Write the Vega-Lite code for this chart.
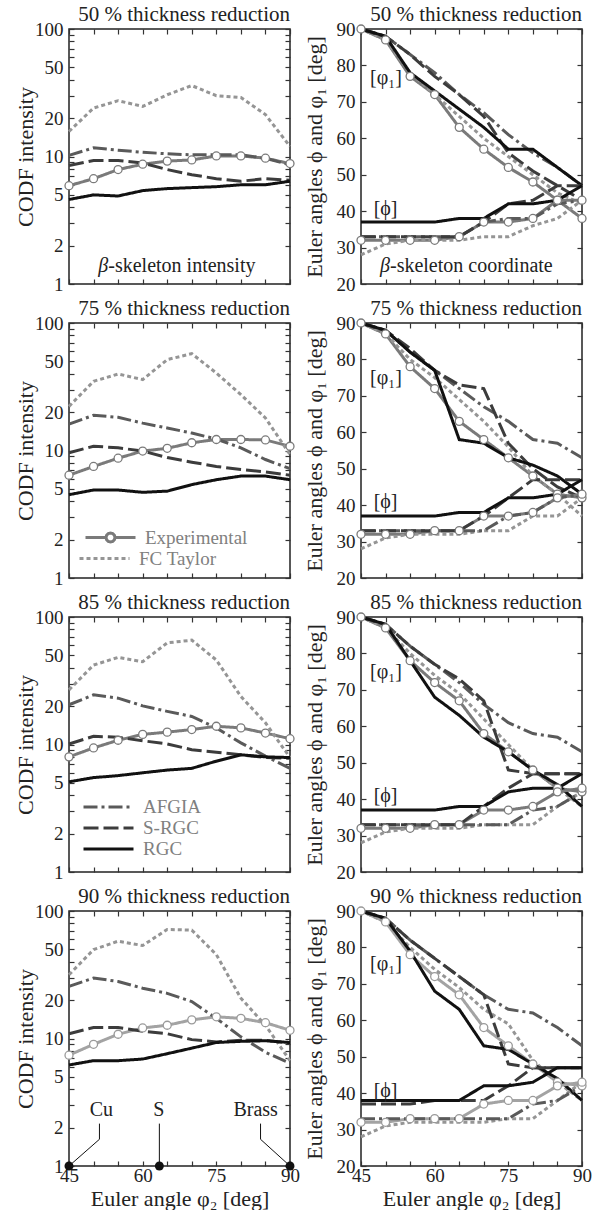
{
"$schema": "https://vega.github.io/schema/vega-lite/v6.json",
"padding": {"left": 13, "top": 3, "right": 5, "bottom": 0},
"background": "white",
"columns": 2,
"spacing": {"row": 39, "column": 71},
"bounds": "flush",
"resolve": {"scale": {"x": "independent", "y": "independent", "color": "independent", "strokeDash": "independent", "strokeWidth": "independent"}, "legend": {"color": "independent", "strokeDash": "independent"}},
"config": {
 "font": "Liberation Serif",
 "view": {"stroke": "#222222", "strokeWidth": 1.5},
 "axis": {"labelFont": "Liberation Serif", "labelFontSize": 19, "labelColor": "#222222", "titleFont": "Liberation Serif", "titleFontSize": 22, "titleFontWeight": "normal", "titleColor": "#222222", "tickColor": "#333333", "tickWidth": 1.2, "grid": false, "domain": false, "labelOverlap": false},
 "title": {"font": "Liberation Serif", "fontSize": 21, "fontWeight": "normal", "color": "#222222", "anchor": "end", "frame": "group", "offset": -5, "baseline": "alphabetic"},
 "style": {"group-title": {"font": "Liberation Serif", "fontSize": 21, "fontWeight": "normal"}, "guide-label": {"font": "Liberation Serif", "fontSize": 19}, "guide-title": {"font": "Liberation Serif", "fontSize": 22, "fontWeight": "normal"}},
 "legend": {"labelFont": "Liberation Serif", "labelFontSize": 19, "labelColor": "#808080", "symbolType": "stroke", "symbolSize": 2500, "symbolStrokeWidth": 2.5, "orient": "bottom-left", "padding": 0, "labelOffset": 8},
 "text": {"font": "Liberation Serif", "fontSize": 20, "color": "#222222"},
 "line": {"strokeWidth": 3, "strokeCap": "butt"}
},
"datasets": {
"codf": [
{"r":50,"x":45,"Experimental":5.9,"FC Taylor":15.7,"AFGIA":10.2,"S-RGC":8.5,"RGC":4.6},
{"r":50,"x":50,"Experimental":6.7,"FC Taylor":24,"AFGIA":11.7,"S-RGC":9.3,"RGC":5.0},
{"r":50,"x":55,"Experimental":7.9,"FC Taylor":27.4,"AFGIA":11.2,"S-RGC":9.3,"RGC":4.9},
{"r":50,"x":60,"Experimental":8.7,"FC Taylor":24.7,"AFGIA":10.8,"S-RGC":8.9,"RGC":5.4},
{"r":50,"x":65,"Experimental":9.2,"FC Taylor":30.5,"AFGIA":10.5,"S-RGC":7.9,"RGC":5.6},
{"r":50,"x":70,"Experimental":9.4,"FC Taylor":36,"AFGIA":10.3,"S-RGC":7.2,"RGC":5.7},
{"r":50,"x":75,"Experimental":10.1,"FC Taylor":30,"AFGIA":10.3,"S-RGC":6.7,"RGC":5.8},
{"r":50,"x":80,"Experimental":10.1,"FC Taylor":29,"AFGIA":10.3,"S-RGC":6.4,"RGC":6.0},
{"r":50,"x":85,"Experimental":9.7,"FC Taylor":21.3,"AFGIA":9.7,"S-RGC":6.7,"RGC":6.0},
{"r":50,"x":90,"Experimental":8.8,"FC Taylor":12,"AFGIA":8.6,"S-RGC":6.5,"RGC":6.4},
{"r":75,"x":45,"Experimental":6.4,"FC Taylor":22.2,"AFGIA":16.1,"S-RGC":9.6,"RGC":4.5},
{"r":75,"x":50,"Experimental":7.5,"FC Taylor":34.9,"AFGIA":18.9,"S-RGC":10.8,"RGC":4.9},
{"r":75,"x":55,"Experimental":8.7,"FC Taylor":39.8,"AFGIA":18.2,"S-RGC":10.5,"RGC":4.9},
{"r":75,"x":60,"Experimental":9.9,"FC Taylor":36,"AFGIA":16.4,"S-RGC":9.9,"RGC":4.7},
{"r":75,"x":65,"Experimental":10.4,"FC Taylor":51.6,"AFGIA":15.0,"S-RGC":8.8,"RGC":4.8},
{"r":75,"x":70,"Experimental":11.5,"FC Taylor":57.5,"AFGIA":13.7,"S-RGC":8.1,"RGC":5.4},
{"r":75,"x":75,"Experimental":12.2,"FC Taylor":40.5,"AFGIA":12.3,"S-RGC":7.5,"RGC":5.9},
{"r":75,"x":80,"Experimental":12.2,"FC Taylor":27.4,"AFGIA":10.5,"S-RGC":7.1,"RGC":6.3},
{"r":75,"x":85,"Experimental":12.1,"FC Taylor":18,"AFGIA":8.5,"S-RGC":6.8,"RGC":6.3},
{"r":75,"x":90,"Experimental":10.8,"FC Taylor":9.3,"AFGIA":7.2,"S-RGC":6.4,"RGC":5.9},
{"r":85,"x":45,"Experimental":8.0,"FC Taylor":26.8,"AFGIA":20.5,"S-RGC":10.1,"RGC":5.1},
{"r":85,"x":50,"Experimental":9.4,"FC Taylor":42,"AFGIA":24.5,"S-RGC":11.6,"RGC":5.5},
{"r":85,"x":55,"Experimental":10.8,"FC Taylor":48.2,"AFGIA":23.1,"S-RGC":11.4,"RGC":5.7},
{"r":85,"x":60,"Experimental":12.0,"FC Taylor":44.6,"AFGIA":20.1,"S-RGC":10.7,"RGC":6.0},
{"r":85,"x":65,"Experimental":12.5,"FC Taylor":62.7,"AFGIA":18.2,"S-RGC":10.1,"RGC":6.3},
{"r":85,"x":70,"Experimental":13.1,"FC Taylor":65.8,"AFGIA":16.6,"S-RGC":9.1,"RGC":6.5},
{"r":85,"x":75,"Experimental":13.9,"FC Taylor":46,"AFGIA":13.5,"S-RGC":8.7,"RGC":7.4},
{"r":85,"x":80,"Experimental":13.5,"FC Taylor":23.8,"AFGIA":10.3,"S-RGC":8.3,"RGC":8.3},
{"r":85,"x":85,"Experimental":12.3,"FC Taylor":14.8,"AFGIA":8.1,"S-RGC":7.9,"RGC":8.0},
{"r":85,"x":90,"Experimental":11.1,"FC Taylor":7.9,"AFGIA":6.5,"S-RGC":7.8,"RGC":7.9},
{"r":90,"x":45,"Experimental":7.4,"FC Taylor":31.6,"AFGIA":25.6,"S-RGC":10.9,"RGC":6.2},
{"r":90,"x":50,"Experimental":9.0,"FC Taylor":49.8,"AFGIA":29.8,"S-RGC":12.2,"RGC":6.7},
{"r":90,"x":55,"Experimental":10.8,"FC Taylor":58,"AFGIA":28,"S-RGC":12.2,"RGC":6.7},
{"r":90,"x":60,"Experimental":12.1,"FC Taylor":53.6,"AFGIA":24.8,"S-RGC":11.4,"RGC":6.9},
{"r":90,"x":65,"Experimental":12.7,"FC Taylor":71.7,"AFGIA":22.6,"S-RGC":10.9,"RGC":7.6},
{"r":90,"x":70,"Experimental":14.0,"FC Taylor":70.8,"AFGIA":19.5,"S-RGC":9.8,"RGC":8.4},
{"r":90,"x":75,"Experimental":14.8,"FC Taylor":45.5,"AFGIA":14.4,"S-RGC":9.4,"RGC":9.3},
{"r":90,"x":80,"Experimental":14.4,"FC Taylor":20.7,"AFGIA":10.3,"S-RGC":9.7,"RGC":9.5},
{"r":90,"x":85,"Experimental":13.3,"FC Taylor":12.7,"AFGIA":7.8,"S-RGC":9.7,"RGC":9.6},
{"r":90,"x":90,"Experimental":11.6,"FC Taylor":6.7,"AFGIA":6.4,"S-RGC":9.2,"RGC":9.3}
],
"euler": [
{"r":50,"c":"phi1","x":45,"Experimental":90,"FC Taylor":90,"AFGIA":90,"S-RGC":90,"RGC":90},
{"r":50,"c":"phi1","x":50,"Experimental":87,"FC Taylor":87,"AFGIA":88,"S-RGC":88,"RGC":88},
{"r":50,"c":"phi1","x":55,"Experimental":77,"FC Taylor":78,"AFGIA":83,"S-RGC":83,"RGC":78},
{"r":50,"c":"phi1","x":60,"Experimental":72,"FC Taylor":72,"AFGIA":78,"S-RGC":77,"RGC":73},
{"r":50,"c":"phi1","x":65,"Experimental":63,"FC Taylor":66,"AFGIA":72,"S-RGC":72,"RGC":68},
{"r":50,"c":"phi1","x":70,"Experimental":57,"FC Taylor":60,"AFGIA":67,"S-RGC":66,"RGC":63},
{"r":50,"c":"phi1","x":75,"Experimental":52,"FC Taylor":55,"AFGIA":61,"S-RGC":56,"RGC":57},
{"r":50,"c":"phi1","x":80,"Experimental":48,"FC Taylor":50,"AFGIA":56,"S-RGC":51,"RGC":57},
{"r":50,"c":"phi1","x":85,"Experimental":43,"FC Taylor":45,"AFGIA":52,"S-RGC":47,"RGC":52},
{"r":50,"c":"phi1","x":90,"Experimental":38,"FC Taylor":42,"AFGIA":47,"S-RGC":43,"RGC":47},
{"r":50,"c":"Phi","x":45,"Experimental":32,"FC Taylor":28,"AFGIA":33,"S-RGC":33,"RGC":37},
{"r":50,"c":"Phi","x":50,"Experimental":32,"FC Taylor":31,"AFGIA":33,"S-RGC":33,"RGC":37},
{"r":50,"c":"Phi","x":55,"Experimental":32,"FC Taylor":32,"AFGIA":33,"S-RGC":33,"RGC":37},
{"r":50,"c":"Phi","x":60,"Experimental":32,"FC Taylor":32,"AFGIA":33,"S-RGC":33,"RGC":37},
{"r":50,"c":"Phi","x":65,"Experimental":33,"FC Taylor":32,"AFGIA":33,"S-RGC":33,"RGC":38},
{"r":50,"c":"Phi","x":70,"Experimental":37,"FC Taylor":33,"AFGIA":37,"S-RGC":37,"RGC":38},
{"r":50,"c":"Phi","x":75,"Experimental":37,"FC Taylor":33,"AFGIA":38,"S-RGC":42,"RGC":42},
{"r":50,"c":"Phi","x":80,"Experimental":38,"FC Taylor":36,"AFGIA":38,"S-RGC":43,"RGC":42},
{"r":50,"c":"Phi","x":85,"Experimental":43,"FC Taylor":38,"AFGIA":42,"S-RGC":47,"RGC":43},
{"r":50,"c":"Phi","x":90,"Experimental":43,"FC Taylor":43,"AFGIA":43,"S-RGC":47,"RGC":47},
{"r":75,"c":"phi1","x":45,"Experimental":90,"FC Taylor":90,"AFGIA":90,"S-RGC":90,"RGC":90},
{"r":75,"c":"phi1","x":50,"Experimental":87,"FC Taylor":87,"AFGIA":88,"S-RGC":88,"RGC":88},
{"r":75,"c":"phi1","x":55,"Experimental":78,"FC Taylor":80,"AFGIA":82,"S-RGC":83,"RGC":82},
{"r":75,"c":"phi1","x":60,"Experimental":72,"FC Taylor":75,"AFGIA":77,"S-RGC":77,"RGC":77},
{"r":75,"c":"phi1","x":65,"Experimental":63,"FC Taylor":69,"AFGIA":72,"S-RGC":73,"RGC":58},
{"r":75,"c":"phi1","x":70,"Experimental":58,"FC Taylor":63,"AFGIA":67,"S-RGC":72,"RGC":57},
{"r":75,"c":"phi1","x":75,"Experimental":53,"FC Taylor":56,"AFGIA":63,"S-RGC":57,"RGC":53},
{"r":75,"c":"phi1","x":80,"Experimental":48,"FC Taylor":48,"AFGIA":58,"S-RGC":50,"RGC":51},
{"r":75,"c":"phi1","x":85,"Experimental":43,"FC Taylor":43,"AFGIA":57,"S-RGC":45,"RGC":48},
{"r":75,"c":"phi1","x":90,"Experimental":42,"FC Taylor":37,"AFGIA":53,"S-RGC":42,"RGC":43},
{"r":75,"c":"Phi","x":45,"Experimental":32,"FC Taylor":28,"AFGIA":33,"S-RGC":33,"RGC":37},
{"r":75,"c":"Phi","x":50,"Experimental":32,"FC Taylor":31,"AFGIA":33,"S-RGC":33,"RGC":37},
{"r":75,"c":"Phi","x":55,"Experimental":32,"FC Taylor":32,"AFGIA":33,"S-RGC":33,"RGC":37},
{"r":75,"c":"Phi","x":60,"Experimental":33,"FC Taylor":32,"AFGIA":33,"S-RGC":33,"RGC":37},
{"r":75,"c":"Phi","x":65,"Experimental":33,"FC Taylor":32,"AFGIA":33,"S-RGC":33,"RGC":38},
{"r":75,"c":"Phi","x":70,"Experimental":37,"FC Taylor":33,"AFGIA":33,"S-RGC":37,"RGC":38},
{"r":75,"c":"Phi","x":75,"Experimental":37,"FC Taylor":33,"AFGIA":37,"S-RGC":42,"RGC":42},
{"r":75,"c":"Phi","x":80,"Experimental":38,"FC Taylor":37,"AFGIA":38,"S-RGC":47,"RGC":42},
{"r":75,"c":"Phi","x":85,"Experimental":42,"FC Taylor":37,"AFGIA":42,"S-RGC":47,"RGC":43},
{"r":75,"c":"Phi","x":90,"Experimental":43,"FC Taylor":42,"AFGIA":43,"S-RGC":47,"RGC":47},
{"r":85,"c":"phi1","x":45,"Experimental":90,"FC Taylor":90,"AFGIA":90,"S-RGC":90,"RGC":90},
{"r":85,"c":"phi1","x":50,"Experimental":87,"FC Taylor":87,"AFGIA":88,"S-RGC":88,"RGC":88},
{"r":85,"c":"phi1","x":55,"Experimental":78,"FC Taylor":80,"AFGIA":82,"S-RGC":82,"RGC":78},
{"r":85,"c":"phi1","x":60,"Experimental":72,"FC Taylor":74,"AFGIA":77,"S-RGC":77,"RGC":68},
{"r":85,"c":"phi1","x":65,"Experimental":67,"FC Taylor":69,"AFGIA":72,"S-RGC":73,"RGC":63},
{"r":85,"c":"phi1","x":70,"Experimental":58,"FC Taylor":62,"AFGIA":66,"S-RGC":67,"RGC":57},
{"r":85,"c":"phi1","x":75,"Experimental":53,"FC Taylor":55,"AFGIA":61,"S-RGC":48,"RGC":53},
{"r":85,"c":"phi1","x":80,"Experimental":48,"FC Taylor":48,"AFGIA":58,"S-RGC":47,"RGC":48},
{"r":85,"c":"phi1","x":85,"Experimental":43,"FC Taylor":43,"AFGIA":57,"S-RGC":47,"RGC":44},
{"r":85,"c":"phi1","x":90,"Experimental":42,"FC Taylor":38,"AFGIA":53,"S-RGC":47,"RGC":38},
{"r":85,"c":"Phi","x":45,"Experimental":32,"FC Taylor":28,"AFGIA":33,"S-RGC":33,"RGC":37},
{"r":85,"c":"Phi","x":50,"Experimental":32,"FC Taylor":31,"AFGIA":33,"S-RGC":33,"RGC":37},
{"r":85,"c":"Phi","x":55,"Experimental":32,"FC Taylor":32,"AFGIA":33,"S-RGC":33,"RGC":37},
{"r":85,"c":"Phi","x":60,"Experimental":33,"FC Taylor":32,"AFGIA":33,"S-RGC":33,"RGC":37},
{"r":85,"c":"Phi","x":65,"Experimental":33,"FC Taylor":32,"AFGIA":33,"S-RGC":33,"RGC":38},
{"r":85,"c":"Phi","x":70,"Experimental":37,"FC Taylor":33,"AFGIA":33,"S-RGC":38,"RGC":38},
{"r":85,"c":"Phi","x":75,"Experimental":37,"FC Taylor":33,"AFGIA":33,"S-RGC":43,"RGC":42},
{"r":85,"c":"Phi","x":80,"Experimental":38,"FC Taylor":33,"AFGIA":37,"S-RGC":47,"RGC":43},
{"r":85,"c":"Phi","x":85,"Experimental":42,"FC Taylor":38,"AFGIA":38,"S-RGC":47,"RGC":43},
{"r":85,"c":"Phi","x":90,"Experimental":43,"FC Taylor":42,"AFGIA":42,"S-RGC":47,"RGC":47},
{"r":90,"c":"phi1","x":45,"Experimental":90,"FC Taylor":90,"AFGIA":90,"S-RGC":90,"RGC":90},
{"r":90,"c":"phi1","x":50,"Experimental":87,"FC Taylor":87,"AFGIA":88,"S-RGC":88,"RGC":88},
{"r":90,"c":"phi1","x":55,"Experimental":78,"FC Taylor":80,"AFGIA":82,"S-RGC":82,"RGC":79},
{"r":90,"c":"phi1","x":60,"Experimental":72,"FC Taylor":74,"AFGIA":77,"S-RGC":77,"RGC":68},
{"r":90,"c":"phi1","x":65,"Experimental":67,"FC Taylor":69,"AFGIA":72,"S-RGC":72,"RGC":63},
{"r":90,"c":"phi1","x":70,"Experimental":58,"FC Taylor":63,"AFGIA":67,"S-RGC":67,"RGC":53},
{"r":90,"c":"phi1","x":75,"Experimental":53,"FC Taylor":59,"AFGIA":63,"S-RGC":48,"RGC":52},
{"r":90,"c":"phi1","x":80,"Experimental":48,"FC Taylor":49,"AFGIA":62,"S-RGC":47,"RGC":48},
{"r":90,"c":"phi1","x":85,"Experimental":43,"FC Taylor":43,"AFGIA":58,"S-RGC":47,"RGC":44},
{"r":90,"c":"phi1","x":90,"Experimental":42,"FC Taylor":38,"AFGIA":53,"S-RGC":47,"RGC":38},
{"r":90,"c":"Phi","x":45,"Experimental":32,"FC Taylor":28,"AFGIA":33,"S-RGC":37,"RGC":38},
{"r":90,"c":"Phi","x":50,"Experimental":32,"FC Taylor":31,"AFGIA":33,"S-RGC":37,"RGC":38},
{"r":90,"c":"Phi","x":55,"Experimental":33,"FC Taylor":32,"AFGIA":33,"S-RGC":37,"RGC":38},
{"r":90,"c":"Phi","x":60,"Experimental":33,"FC Taylor":32,"AFGIA":33,"S-RGC":38,"RGC":38},
{"r":90,"c":"Phi","x":65,"Experimental":33,"FC Taylor":32,"AFGIA":33,"S-RGC":38,"RGC":38},
{"r":90,"c":"Phi","x":70,"Experimental":37,"FC Taylor":32,"AFGIA":33,"S-RGC":38,"RGC":42},
{"r":90,"c":"Phi","x":75,"Experimental":38,"FC Taylor":33,"AFGIA":33,"S-RGC":42,"RGC":42},
{"r":90,"c":"Phi","x":80,"Experimental":38,"FC Taylor":33,"AFGIA":37,"S-RGC":47,"RGC":43},
{"r":90,"c":"Phi","x":85,"Experimental":42,"FC Taylor":38,"AFGIA":38,"S-RGC":47,"RGC":47},
{"r":90,"c":"Phi","x":90,"Experimental":43,"FC Taylor":43,"AFGIA":42,"S-RGC":47,"RGC":47}
],
"notes": [
{"id":"L50","k":"it","t":"β","x":53.0,"v":1.38},
{"id":"L50","k":"rl","t":"-skeleton intensity","x":53.0,"v":1.38},
{"id":"R50","k":"it","t":"β","x":50.9,"v":25},
{"id":"R50","k":"rl","t":"-skeleton coordinate","x":50.9,"v":25},
{"id":"R50","k":"c","t":"[φ₁]","x":50.1,"v":76.5},
{"id":"R50","k":"c","t":"[ϕ]","x":50,"v":40.5},
{"id":"R75","k":"c","t":"[φ₁]","x":50.1,"v":75},
{"id":"R75","k":"c","t":"[ϕ]","x":50,"v":41},
{"id":"R85","k":"c","t":"[φ₁]","x":50.1,"v":75},
{"id":"R85","k":"c","t":"[ϕ]","x":50,"v":40.8},
{"id":"R90","k":"c","t":"[φ₁]","x":50.1,"v":75.5},
{"id":"R90","k":"c","t":"[ϕ]","x":50,"v":40.5},
{"id":"L90","k":"c","t":"Cu","x":51.6,"v":2.75},
{"id":"L90","k":"c","t":"S","x":63.3,"v":2.75},
{"id":"L90","k":"c","t":"Brass","x":83,"v":2.75}
],
"lead": [
{"k":"Cu","o":1,"x":45,"v":1},
{"k":"Cu","o":2,"x":51.2,"v":1.62},
{"k":"Cu","o":3,"x":51.2,"v":2.15},
{"k":"S","o":1,"x":63.4,"v":1},
{"k":"S","o":2,"x":63.4,"v":2.15},
{"k":"Brass","o":1,"x":90,"v":1},
{"k":"Brass","o":2,"x":84,"v":1.62},
{"k":"Brass","o":3,"x":84,"v":2.15}
]
},
"concat": [
{
 "width": 221, "height": 255,
 "title": {"text": "50 % thickness reduction", "font": "Liberation Serif"},
 "resolve": {"axis": {"x": "independent", "y": "independent"}},
 "layer": [
  {"data": {"name": "codf"}, "transform": [{"filter": "datum.r == 50"}, {"fold": ["Experimental","FC Taylor","AFGIA","S-RGC","RGC"], "as": ["s","v"]}],
   "mark": {"type": "line", "strokeWidth": 3},
   "encoding": {
    "x": {"field": "x", "type": "quantitative", "scale": {"domain": [45,90], "nice": false, "zero": false}, "axis": {"orient": "bottom", "values": [45,50,55,60,65,70,75,80,85,90], "labels": false, "title": null, "tickSize": -5}},
    "y": {"field": "v", "type": "quantitative", "scale": {"type": "log", "domain": [1,100], "nice": false}, "axis": {"orient": "left", "values": [1,2,3,4,5,6,7,8,9,10,20,30,40,50,60,70,80,90,100], "labelExpr": "indexof([1,2,5,10,20,50,100], datum.value) >= 0 ? datum.label : ''", "format": "d", "labelPadding": 11, "title": "CODF intensity", "titlePadding": -3, "tickSize": -5}},
    "color": {"field": "s", "type": "nominal", "scale": {"domain": ["Experimental","FC Taylor","AFGIA","S-RGC","RGC"], "range": ["#7a7a7a","#959595","#5a5a5a","#3c3c3c","#111111"]}, "legend": null},
    "strokeDash": {"field": "s", "type": "nominal", "scale": {"domain": ["Experimental","FC Taylor","AFGIA","S-RGC","RGC"], "range": [[1,0],[4,3],[14,4,3,4],[15,5],[1,0]]}, "legend": null}
   }},
  {"data": {"name": "codf"}, "transform": [{"filter": "datum.r == 50"}],
   "mark": {"type": "point", "shape": "circle", "filled": true, "fill": "#ffffff", "stroke": "#7a7a7a", "strokeWidth": 1.3, "size": 64, "opacity": 1},
   "encoding": {
    "x": {"field": "x", "type": "quantitative", "axis": {"orient": "top", "values": [45,50,55,60,65,70,75,80,85,90], "labels": false, "title": null, "tickSize": -5}},
    "y": {"field": "Experimental", "type": "quantitative", "axis": {"orient": "right", "values": [1,2,3,4,5,6,7,8,9,10,20,30,40,50,60,70,80,90,100], "labels": false, "title": null, "tickSize": -5}}
   }},
  {"data": {"name": "notes"}, "transform": [{"filter": "datum.id == 'L50' && datum.k == 'it'"}],
   "mark": {"type": "text", "fontStyle": "italic", "align": "right", "baseline": "middle", "fontSize": 20},
   "encoding": {"x": {"field": "x", "type": "quantitative", "axis": null}, "y": {"field": "v", "type": "quantitative", "axis": null}, "text": {"field": "t"}}},
  {"data": {"name": "notes"}, "transform": [{"filter": "datum.id == 'L50' && datum.k == 'rl'"}],
   "mark": {"type": "text", "align": "left", "baseline": "middle", "fontSize": 20},
   "encoding": {"x": {"field": "x", "type": "quantitative", "axis": null}, "y": {"field": "v", "type": "quantitative", "axis": null}, "text": {"field": "t"}}}
 ]
},
{
 "width": 221, "height": 255,
 "title": {"text": "50 % thickness reduction", "font": "Liberation Serif"},
 "resolve": {"axis": {"x": "independent", "y": "independent"}},
 "layer": [
  {"data": {"name": "euler"}, "transform": [{"filter": "datum.r == 50"}, {"fold": ["Experimental","FC Taylor","AFGIA","S-RGC","RGC"], "as": ["s","v"]}],
   "mark": {"type": "line"},
   "encoding": {
    "x": {"field": "x", "type": "quantitative", "scale": {"domain": [45,90], "nice": false, "zero": false}, "axis": {"orient": "bottom", "values": [45,50,55,60,65,70,75,80,85,90], "labels": false, "title": null, "tickSize": -5}},
    "y": {"field": "v", "type": "quantitative", "scale": {"domain": [20,90], "nice": false, "zero": false}, "axis": {"orient": "left", "values": [20,30,40,50,60,70,80,90], "labelPadding": 11, "title": "Euler angles ϕ and φ₁ [deg]", "titlePadding": 10, "tickSize": -5}},
    "color": {"field": "s", "type": "nominal", "scale": {"domain": ["Experimental","FC Taylor","AFGIA","S-RGC","RGC"], "range": ["#7a7a7a","#959595","#5a5a5a","#3c3c3c","#111111"]}, "legend": null},
    "strokeDash": {"field": "s", "type": "nominal", "scale": {"domain": ["Experimental","FC Taylor","AFGIA","S-RGC","RGC"], "range": [[1,0],[4,3],[14,4,3,4],[15,5],[1,0]]}, "legend": null},
    "strokeWidth": {"field": "c", "type": "nominal", "scale": {"domain": ["phi1","Phi"], "range": [3,1.3]}, "legend": null},
    "detail": {"field": "c"}
   }},
  {"data": {"name": "euler"}, "transform": [{"filter": "datum.r == 50"}],
   "mark": {"type": "point", "shape": "circle", "filled": true, "fill": "#ffffff", "stroke": "#7a7a7a", "strokeWidth": 1.3, "size": 64, "opacity": 1},
   "encoding": {
    "x": {"field": "x", "type": "quantitative", "axis": {"orient": "top", "values": [45,50,55,60,65,70,75,80,85,90], "labels": false, "title": null, "tickSize": -5}},
    "y": {"field": "Experimental", "type": "quantitative", "axis": {"orient": "right", "values": [20,30,40,50,60,70,80,90], "labels": false, "title": null, "tickSize": -5}}
   }},
  {"data": {"name": "notes"}, "transform": [{"filter": "datum.id == 'R50' && datum.k == 'c'"}],
   "mark": {"type": "text", "align": "center", "baseline": "middle", "fontSize": 20},
   "encoding": {"x": {"field": "x", "type": "quantitative", "axis": null}, "y": {"field": "v", "type": "quantitative", "axis": null}, "text": {"field": "t"}}},
  {"data": {"name": "notes"}, "transform": [{"filter": "datum.id == 'R50' && datum.k == 'it'"}],
   "mark": {"type": "text", "fontStyle": "italic", "align": "right", "baseline": "middle", "fontSize": 20},
   "encoding": {"x": {"field": "x", "type": "quantitative", "axis": null}, "y": {"field": "v", "type": "quantitative", "axis": null}, "text": {"field": "t"}}},
  {"data": {"name": "notes"}, "transform": [{"filter": "datum.id == 'R50' && datum.k == 'rl'"}],
   "mark": {"type": "text", "align": "left", "baseline": "middle", "fontSize": 20},
   "encoding": {"x": {"field": "x", "type": "quantitative", "axis": null}, "y": {"field": "v", "type": "quantitative", "axis": null}, "text": {"field": "t"}}}
 ]
},
{
 "width": 221, "height": 255,
 "title": {"text": "75 % thickness reduction", "font": "Liberation Serif"},
 "resolve": {"axis": {"x": "independent", "y": "independent"}},
 "layer": [
  {"data": {"name": "codf"}, "transform": [{"filter": "datum.r == 75"}, {"fold": ["Experimental","FC Taylor","AFGIA","S-RGC","RGC"], "as": ["s","v"]}],
   "mark": {"type": "line", "strokeWidth": 3},
   "encoding": {
    "x": {"field": "x", "type": "quantitative", "scale": {"domain": [45,90], "nice": false, "zero": false}, "axis": {"orient": "bottom", "values": [45,50,55,60,65,70,75,80,85,90], "labels": false, "title": null, "tickSize": -5}},
    "y": {"field": "v", "type": "quantitative", "scale": {"type": "log", "domain": [1,100], "nice": false}, "axis": {"orient": "left", "values": [1,2,3,4,5,6,7,8,9,10,20,30,40,50,60,70,80,90,100], "labelExpr": "indexof([1,2,5,10,20,50,100], datum.value) >= 0 ? datum.label : ''", "format": "d", "labelPadding": 11, "title": "CODF intensity", "titlePadding": -3, "tickSize": -5}},
    "color": {"field": "s", "type": "nominal", "scale": {"domain": ["Experimental","FC Taylor","AFGIA","S-RGC","RGC"], "range": ["#7a7a7a","#959595","#5a5a5a","#3c3c3c","#111111"]},
     "legend": {"values": ["Experimental"], "title": null, "orient": "none", "legendX": 15, "legendY": 207, "clipHeight": 15, "symbolType": "M-1,0L-0.18,0M0.18,0L1,0M0.18,0L0.156,0.09L0.09,0.156L0,0.18L-0.09,0.156L-0.156,0.09L-0.18,0L-0.156,-0.09L-0.09,-0.156L0,-0.18L0.09,-0.156L0.156,-0.09Z"}},
    "strokeDash": {"field": "s", "type": "nominal", "scale": {"domain": ["FC Taylor","Experimental","AFGIA","S-RGC","RGC"], "range": [[4,3],[1,0],[14,4,3,4],[15,5],[1,0]]},
     "legend": {"values": ["FC Taylor"], "title": null, "orient": "bottom-left", "offset": 9, "clipHeight": 15, "symbolStrokeColor": "#959595"}}
   }},
  {"data": {"name": "codf"}, "transform": [{"filter": "datum.r == 75"}],
   "mark": {"type": "point", "shape": "circle", "filled": true, "fill": "#ffffff", "stroke": "#7a7a7a", "strokeWidth": 1.3, "size": 64, "opacity": 1},
   "encoding": {
    "x": {"field": "x", "type": "quantitative", "axis": {"orient": "top", "values": [45,50,55,60,65,70,75,80,85,90], "labels": false, "title": null, "tickSize": -5}},
    "y": {"field": "Experimental", "type": "quantitative", "axis": {"orient": "right", "values": [1,2,3,4,5,6,7,8,9,10,20,30,40,50,60,70,80,90,100], "labels": false, "title": null, "tickSize": -5}}
   }}
 ]
},
{
 "width": 221, "height": 255,
 "title": {"text": "75 % thickness reduction", "font": "Liberation Serif"},
 "resolve": {"axis": {"x": "independent", "y": "independent"}},
 "layer": [
  {"data": {"name": "euler"}, "transform": [{"filter": "datum.r == 75"}, {"fold": ["Experimental","FC Taylor","AFGIA","S-RGC","RGC"], "as": ["s","v"]}],
   "mark": {"type": "line"},
   "encoding": {
    "x": {"field": "x", "type": "quantitative", "scale": {"domain": [45,90], "nice": false, "zero": false}, "axis": {"orient": "bottom", "values": [45,50,55,60,65,70,75,80,85,90], "labels": false, "title": null, "tickSize": -5}},
    "y": {"field": "v", "type": "quantitative", "scale": {"domain": [20,90], "nice": false, "zero": false}, "axis": {"orient": "left", "values": [20,30,40,50,60,70,80,90], "labelPadding": 11, "title": "Euler angles ϕ and φ₁ [deg]", "titlePadding": 10, "tickSize": -5}},
    "color": {"field": "s", "type": "nominal", "scale": {"domain": ["Experimental","FC Taylor","AFGIA","S-RGC","RGC"], "range": ["#7a7a7a","#959595","#5a5a5a","#3c3c3c","#111111"]}, "legend": null},
    "strokeDash": {"field": "s", "type": "nominal", "scale": {"domain": ["Experimental","FC Taylor","AFGIA","S-RGC","RGC"], "range": [[1,0],[4,3],[14,4,3,4],[15,5],[1,0]]}, "legend": null},
    "strokeWidth": {"field": "c", "type": "nominal", "scale": {"domain": ["phi1","Phi"], "range": [3,1.3]}, "legend": null},
    "detail": {"field": "c"}
   }},
  {"data": {"name": "euler"}, "transform": [{"filter": "datum.r == 75"}],
   "mark": {"type": "point", "shape": "circle", "filled": true, "fill": "#ffffff", "stroke": "#7a7a7a", "strokeWidth": 1.3, "size": 64, "opacity": 1},
   "encoding": {
    "x": {"field": "x", "type": "quantitative", "axis": {"orient": "top", "values": [45,50,55,60,65,70,75,80,85,90], "labels": false, "title": null, "tickSize": -5}},
    "y": {"field": "Experimental", "type": "quantitative", "axis": {"orient": "right", "values": [20,30,40,50,60,70,80,90], "labels": false, "title": null, "tickSize": -5}}
   }},
  {"data": {"name": "notes"}, "transform": [{"filter": "datum.id == 'R75' && datum.k == 'c'"}],
   "mark": {"type": "text", "align": "center", "baseline": "middle", "fontSize": 20},
   "encoding": {"x": {"field": "x", "type": "quantitative", "axis": null}, "y": {"field": "v", "type": "quantitative", "axis": null}, "text": {"field": "t"}}}
 ]
},
{
 "width": 221, "height": 255,
 "title": {"text": "85 % thickness reduction", "font": "Liberation Serif"},
 "resolve": {"axis": {"x": "independent", "y": "independent"}},
 "layer": [
  {"data": {"name": "codf"}, "transform": [{"filter": "datum.r == 85"}, {"fold": ["Experimental","FC Taylor","AFGIA","S-RGC","RGC"], "as": ["s","v"]}],
   "mark": {"type": "line", "strokeWidth": 3},
   "encoding": {
    "x": {"field": "x", "type": "quantitative", "scale": {"domain": [45,90], "nice": false, "zero": false}, "axis": {"orient": "bottom", "values": [45,50,55,60,65,70,75,80,85,90], "labels": false, "title": null, "tickSize": -5}},
    "y": {"field": "v", "type": "quantitative", "scale": {"type": "log", "domain": [1,100], "nice": false}, "axis": {"orient": "left", "values": [1,2,3,4,5,6,7,8,9,10,20,30,40,50,60,70,80,90,100], "labelExpr": "indexof([1,2,5,10,20,50,100], datum.value) >= 0 ? datum.label : ''", "format": "d", "labelPadding": 11, "title": "CODF intensity", "titlePadding": -3, "tickSize": -5}},
    "color": {"field": "s", "type": "nominal", "scale": {"domain": ["Experimental","FC Taylor","AFGIA","S-RGC","RGC"], "range": ["#7a7a7a","#959595","#5a5a5a","#3c3c3c","#111111"]},
     "legend": {"values": ["AFGIA","S-RGC","RGC"], "title": null, "orient": "bottom-left", "offset": 13, "clipHeight": 18, "rowPadding": 2}},
    "strokeDash": {"field": "s", "type": "nominal", "scale": {"domain": ["Experimental","FC Taylor","AFGIA","S-RGC","RGC"], "range": [[1,0],[4,3],[14,4,3,4],[15,5],[1,0]]}, "legend": null}
   }},
  {"data": {"name": "codf"}, "transform": [{"filter": "datum.r == 85"}],
   "mark": {"type": "point", "shape": "circle", "filled": true, "fill": "#ffffff", "stroke": "#7a7a7a", "strokeWidth": 1.3, "size": 64, "opacity": 1},
   "encoding": {
    "x": {"field": "x", "type": "quantitative", "axis": {"orient": "top", "values": [45,50,55,60,65,70,75,80,85,90], "labels": false, "title": null, "tickSize": -5}},
    "y": {"field": "Experimental", "type": "quantitative", "axis": {"orient": "right", "values": [1,2,3,4,5,6,7,8,9,10,20,30,40,50,60,70,80,90,100], "labels": false, "title": null, "tickSize": -5}}
   }}
 ]
},
{
 "width": 221, "height": 255,
 "title": {"text": "85 % thickness reduction", "font": "Liberation Serif"},
 "resolve": {"axis": {"x": "independent", "y": "independent"}},
 "layer": [
  {"data": {"name": "euler"}, "transform": [{"filter": "datum.r == 85"}, {"fold": ["Experimental","FC Taylor","AFGIA","S-RGC","RGC"], "as": ["s","v"]}],
   "mark": {"type": "line"},
   "encoding": {
    "x": {"field": "x", "type": "quantitative", "scale": {"domain": [45,90], "nice": false, "zero": false}, "axis": {"orient": "bottom", "values": [45,50,55,60,65,70,75,80,85,90], "labels": false, "title": null, "tickSize": -5}},
    "y": {"field": "v", "type": "quantitative", "scale": {"domain": [20,90], "nice": false, "zero": false}, "axis": {"orient": "left", "values": [20,30,40,50,60,70,80,90], "labelPadding": 11, "title": "Euler angles ϕ and φ₁ [deg]", "titlePadding": 10, "tickSize": -5}},
    "color": {"field": "s", "type": "nominal", "scale": {"domain": ["Experimental","FC Taylor","AFGIA","S-RGC","RGC"], "range": ["#7a7a7a","#959595","#5a5a5a","#3c3c3c","#111111"]}, "legend": null},
    "strokeDash": {"field": "s", "type": "nominal", "scale": {"domain": ["Experimental","FC Taylor","AFGIA","S-RGC","RGC"], "range": [[1,0],[4,3],[14,4,3,4],[15,5],[1,0]]}, "legend": null},
    "strokeWidth": {"field": "c", "type": "nominal", "scale": {"domain": ["phi1","Phi"], "range": [3,1.3]}, "legend": null},
    "detail": {"field": "c"}
   }},
  {"data": {"name": "euler"}, "transform": [{"filter": "datum.r == 85"}],
   "mark": {"type": "point", "shape": "circle", "filled": true, "fill": "#ffffff", "stroke": "#7a7a7a", "strokeWidth": 1.3, "size": 64, "opacity": 1},
   "encoding": {
    "x": {"field": "x", "type": "quantitative", "axis": {"orient": "top", "values": [45,50,55,60,65,70,75,80,85,90], "labels": false, "title": null, "tickSize": -5}},
    "y": {"field": "Experimental", "type": "quantitative", "axis": {"orient": "right", "values": [20,30,40,50,60,70,80,90], "labels": false, "title": null, "tickSize": -5}}
   }},
  {"data": {"name": "notes"}, "transform": [{"filter": "datum.id == 'R85' && datum.k == 'c'"}],
   "mark": {"type": "text", "align": "center", "baseline": "middle", "fontSize": 20},
   "encoding": {"x": {"field": "x", "type": "quantitative", "axis": null}, "y": {"field": "v", "type": "quantitative", "axis": null}, "text": {"field": "t"}}}
 ]
},
{
 "width": 221, "height": 255,
 "title": {"text": "90 % thickness reduction", "font": "Liberation Serif"},
 "resolve": {"axis": {"x": "independent", "y": "independent"}},
 "layer": [
  {"data": {"name": "codf"}, "transform": [{"filter": "datum.r == 90"}, {"fold": ["Experimental","FC Taylor","AFGIA","S-RGC","RGC"], "as": ["s","v"]}],
   "mark": {"type": "line", "strokeWidth": 3},
   "encoding": {
    "x": {"field": "x", "type": "quantitative", "scale": {"domain": [45,90], "nice": false, "zero": false}, "axis": {"orient": "bottom", "values": [45,50,55,60,65,70,75,80,85,90], "labelExpr": "datum.value % 15 == 0 ? datum.label : ''", "labelPadding": 5, "labelFlush": false, "title": "Euler angle φ₂ [deg]", "titlePadding": 3, "tickSize": -5}},
    "y": {"field": "v", "type": "quantitative", "scale": {"type": "log", "domain": [1,100], "nice": false}, "axis": {"orient": "left", "values": [1,2,3,4,5,6,7,8,9,10,20,30,40,50,60,70,80,90,100], "labelExpr": "indexof([1,2,5,10,20,50,100], datum.value) >= 0 ? datum.label : ''", "format": "d", "labelPadding": 11, "title": "CODF intensity", "titlePadding": -3, "tickSize": -5}},
    "color": {"field": "s", "type": "nominal", "scale": {"domain": ["Experimental","FC Taylor","AFGIA","S-RGC","RGC"], "range": ["#a3a3a3","#959595","#5a5a5a","#3c3c3c","#111111"]}, "legend": null},
    "strokeDash": {"field": "s", "type": "nominal", "scale": {"domain": ["Experimental","FC Taylor","AFGIA","S-RGC","RGC"], "range": [[1,0],[4,3],[14,4,3,4],[15,5],[1,0]]}, "legend": null}
   }},
  {"data": {"name": "codf"}, "transform": [{"filter": "datum.r == 90"}],
   "mark": {"type": "point", "shape": "circle", "filled": true, "fill": "#ffffff", "stroke": "#9a9a9a", "strokeWidth": 1.3, "size": 64, "opacity": 1},
   "encoding": {
    "x": {"field": "x", "type": "quantitative", "axis": {"orient": "top", "values": [45,50,55,60,65,70,75,80,85,90], "labels": false, "title": null, "tickSize": -5}},
    "y": {"field": "Experimental", "type": "quantitative", "axis": {"orient": "right", "values": [1,2,3,4,5,6,7,8,9,10,20,30,40,50,60,70,80,90,100], "labels": false, "title": null, "tickSize": -5}}
   }},
  {"data": {"name": "lead"},
   "mark": {"type": "line", "strokeWidth": 1, "color": "#111111"},
   "encoding": {"x": {"field": "x", "type": "quantitative", "axis": null}, "y": {"field": "v", "type": "quantitative", "axis": null}, "detail": {"field": "k"}, "order": {"field": "o"}}},
  {"data": {"name": "lead"}, "transform": [{"filter": "datum.o == 1"}],
   "mark": {"type": "point", "shape": "circle", "filled": true, "color": "#111111", "size": 80, "opacity": 1},
   "encoding": {"x": {"field": "x", "type": "quantitative", "axis": null}, "y": {"field": "v", "type": "quantitative", "axis": null}}},
  {"data": {"name": "notes"}, "transform": [{"filter": "datum.id == 'L90' && datum.k == 'c'"}],
   "mark": {"type": "text", "align": "center", "baseline": "middle", "fontSize": 20},
   "encoding": {"x": {"field": "x", "type": "quantitative", "axis": null}, "y": {"field": "v", "type": "quantitative", "axis": null}, "text": {"field": "t"}}}
 ]
},
{
 "width": 221, "height": 255,
 "title": {"text": "90 % thickness reduction", "font": "Liberation Serif"},
 "resolve": {"axis": {"x": "independent", "y": "independent"}},
 "layer": [
  {"data": {"name": "euler"}, "transform": [{"filter": "datum.r == 90"}, {"fold": ["Experimental","FC Taylor","AFGIA","S-RGC","RGC"], "as": ["s","v"]}],
   "mark": {"type": "line"},
   "encoding": {
    "x": {"field": "x", "type": "quantitative", "scale": {"domain": [45,90], "nice": false, "zero": false}, "axis": {"orient": "bottom", "values": [45,50,55,60,65,70,75,80,85,90], "labelExpr": "datum.value % 15 == 0 ? datum.label : ''", "labelPadding": 5, "labelFlush": false, "title": "Euler angle φ₂ [deg]", "titlePadding": 3, "tickSize": -5}},
    "y": {"field": "v", "type": "quantitative", "scale": {"domain": [20,90], "nice": false, "zero": false}, "axis": {"orient": "left", "values": [20,30,40,50,60,70,80,90], "labelPadding": 11, "title": "Euler angles ϕ and φ₁ [deg]", "titlePadding": 10, "tickSize": -5}},
    "color": {"field": "s", "type": "nominal", "scale": {"domain": ["Experimental","FC Taylor","AFGIA","S-RGC","RGC"], "range": ["#a3a3a3","#959595","#5a5a5a","#3c3c3c","#111111"]}, "legend": null},
    "strokeDash": {"field": "s", "type": "nominal", "scale": {"domain": ["Experimental","FC Taylor","AFGIA","S-RGC","RGC"], "range": [[1,0],[4,3],[14,4,3,4],[15,5],[1,0]]}, "legend": null},
    "strokeWidth": {"field": "c", "type": "nominal", "scale": {"domain": ["phi1","Phi"], "range": [3,1.3]}, "legend": null},
    "detail": {"field": "c"}
   }},
  {"data": {"name": "euler"}, "transform": [{"filter": "datum.r == 90"}],
   "mark": {"type": "point", "shape": "circle", "filled": true, "fill": "#ffffff", "stroke": "#9a9a9a", "strokeWidth": 1.3, "size": 64, "opacity": 1},
   "encoding": {
    "x": {"field": "x", "type": "quantitative", "axis": {"orient": "top", "values": [45,50,55,60,65,70,75,80,85,90], "labels": false, "title": null, "tickSize": -5}},
    "y": {"field": "Experimental", "type": "quantitative", "axis": {"orient": "right", "values": [20,30,40,50,60,70,80,90], "labels": false, "title": null, "tickSize": -5}}
   }},
  {"data": {"name": "notes"}, "transform": [{"filter": "datum.id == 'R90' && datum.k == 'c'"}],
   "mark": {"type": "text", "align": "center", "baseline": "middle", "fontSize": 20},
   "encoding": {"x": {"field": "x", "type": "quantitative", "axis": null}, "y": {"field": "v", "type": "quantitative", "axis": null}, "text": {"field": "t"}}}
 ]
}
]
}
